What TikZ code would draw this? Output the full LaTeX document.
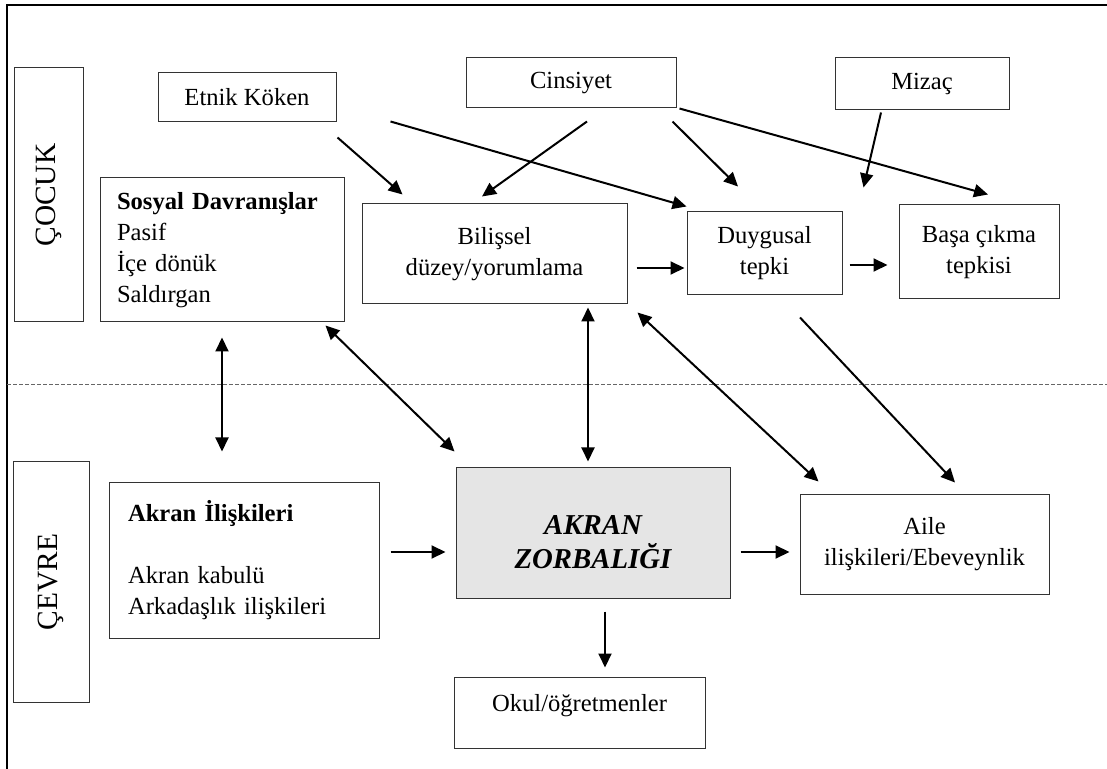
\documentclass[tikz,border=0pt]{standalone}
\usepackage{fontspec}
\setmainfont{Liberation Serif}
\usetikzlibrary{arrows.meta,calc}

\begin{document}
\begin{tikzpicture}[x=0.5pt,y=-0.5pt]
      \useasboundingbox (0,0) rectangle (1107,769);
      \draw[line width=1pt] (1107,5) -- (7,5) -- (7,769);
      \draw[black!60,line width=0.4pt,dash pattern=on 2pt off 1pt] (7,384) -- (1107,384);
      \begin{scope}[every node/.style={draw=black!80,line width=0.5pt,inner sep=0pt,align=center,
          font=\fontsize{12.3}{15.5}\selectfont}]
        \node[minimum width=34.5pt,minimum height=127pt] (cocuk) at (48.5,195) {\rotatebox{90}{\fontsize{14.7}{17}\selectfont ÇOCUK}};
        \node[minimum width=38pt,minimum height=120pt] (cevre) at (51,582) {\rotatebox{90}{\fontsize{14.7}{17}\selectfont ÇEVRE}};
        \node[minimum width=89pt,minimum height=24.5pt] (etnik) at (247,97.5) {Etnik Köken};
        \node[minimum width=105pt,minimum height=25pt] (cinsiyet) at (571,83) {Cinsiyet};
        \node[minimum width=87pt,minimum height=26pt] (mizac) at (922,84) {Mizaç};
        \node[minimum height=72pt,text width=105pt,inner xsep=8.5pt,align=left] (sosyal) at (222,250)
          {\textbf{Sosyal Davranışlar}\\Pasif\\İçe dönük\\Saldırgan};
        \node[minimum width=132.5pt,minimum height=50pt] (bilissel) at (494.5,254) {Bilişsel\\düzey/yorumlama};
        \node[minimum width=77.5pt,minimum height=41.5pt] (duygusal) at (764.5,253.5) {Duygusal\\tepki};
        \node[minimum width=80pt,minimum height=47pt] (basa) at (979,252) {Başa çıkma\\tepkisi};
        \node[minimum height=78pt,text width=116pt,inner xsep=9.5pt,align=left] (akranil) at (244,560)
          {\textbf{Akran İlişkileri}\\[15.5pt]Akran kabulü\\Arkadaşlık ilişkileri};
        \node[minimum width=137pt,minimum height=65pt,fill=black!10,
          font=\fontsize{14.4}{16}\selectfont\bfseries\itshape] (zorba) at (593,533)
          {\raisebox{-9.6pt}[0pt][0pt]{\begin{tabular}{@{}c@{}}AKRAN\\ZORBALIĞI\end{tabular}}};
        \node[minimum width=124.5pt,minimum height=50pt] (aile) at (924.5,544) {Aile\\ilişkileri/Ebeveynlik};
        \node[minimum width=125.5pt,minimum height=35.5pt,text height=8.5pt,text depth=9.7pt] (okul) at (579.5,712.5) {Okul/öğretmenler};
      \end{scope}
      \coordinate (mizacuc) at ($(duygusal.north east)+(21,-24)$);
      \begin{scope}[>={Triangle[length=7pt,width=6.5pt]},line width=1pt]
        \draw[->] ($(etnik.south east)+(1,15)$) -- ($(bilissel.north west)+(41,-9)$);
        \draw[->] ($(etnik.south east)+(54,-1)$) -- ($(duygusal.north west)+(0,-5)$);
        \draw[->] ($(cinsiyet.south)+(16,13)$) -- ($(bilissel.north)+(-12.5,-7)$);
        \draw[->] ($(cinsiyet.south east)+(-4,13)$) -- ($(duygusal.north)+(-26.5,-25)$);
        \draw[->] ($(cinsiyet.south east)+(3,0)$) -- ($(basa.north)+(9,-10)$);
        \draw[->] ($(mizac.south)+(-41,2)$) -- (mizacuc);
        \draw[->] ($(bilissel.east)+(9,14)$) -- ($(duygusal.west)+(-2,14.5)$);
        \draw[->] ($(duygusal.east)+(7,11.5)$) -- ($(basa.west)+(-11,13)$);
        \draw[<->] ($(sosyal.south)+(0,15)$) -- ($(akranil.north)+(-22,-30)$);
        \draw[<->] ($(sosyal.south east)+(-19,3)$) -- ($(zorba.north west)+(-1,-16)$);
        \draw[<->] ($(bilissel.south)+(93.5,3)$) -- ($(zorba.north)+(-5,-6)$);
        \draw[<->] ($(bilissel.south east)+(10,8)$) -- ($(aile.north west)+(19,-12)$);
        \draw[->] ($(duygusal.south)+(35.5,22)$) -- ($(aile.north)+(30.5,-11)$);
        \draw[->] ($(akranil.east)+(11,-8)$) -- ($(zorba.west)+(-10,19)$);
        \draw[->] ($(zorba.east)+(10,19)$) -- ($(aile.west)+(-10,8)$);
        \draw[->] ($(zorba.south)+(12,13)$) -- ($(okul.north)+(25.5,-9)$);
      \end{scope}
    \end{tikzpicture}
\end{document}
